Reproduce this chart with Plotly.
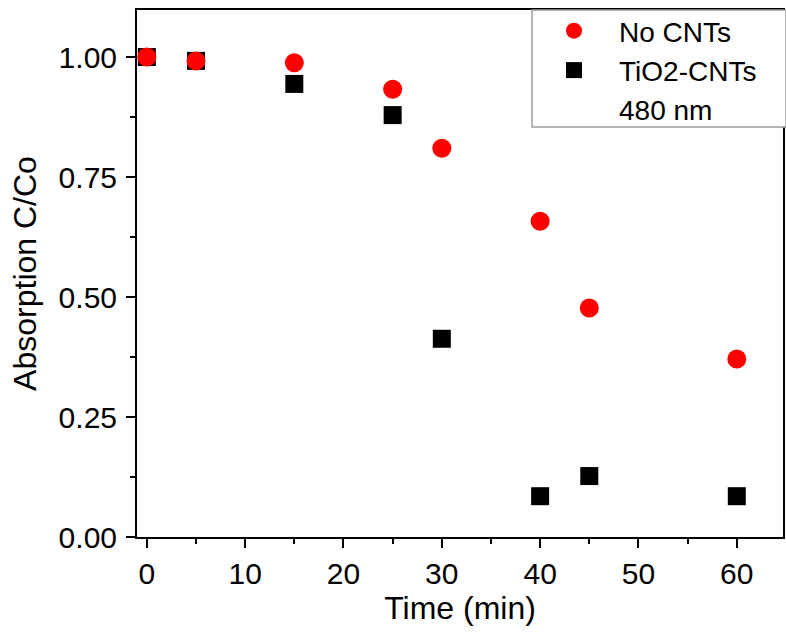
import plotly.graph_objects as go

# Data
time_min = [0, 5, 15, 25, 30, 40, 45, 60]
no_cnts = [1.00, 0.992, 0.988, 0.933, 0.810, 0.658, 0.477, 0.371]
tio2_cnts = [1.00, 0.992, 0.944, 0.879, 0.413, 0.085, 0.127, 0.085]

x_ticks = [0, 10, 20, 30, 40, 50, 60]
y_ticks = [0.00, 0.25, 0.50, 0.75, 1.00]
y_tick_labels = ["0.00", "0.25", "0.50", "0.75", "1.00"]

FONT = "Liberation Sans, Arial, sans-serif"

W, H = 786, 632
L, R, T, B = 137, 3, 10, 95
PW = W - L - R
PH = H - T - B

fig = go.Figure()

fig.add_trace(go.Scatter(
    x=time_min, y=tio2_cnts, mode="markers", name="TiO2-CNTs",
    marker=dict(symbol="square", size=18, color="black"),
    legendrank=2, cliponaxis=False,
))
fig.add_trace(go.Scatter(
    x=time_min, y=no_cnts, mode="markers", name="No CNTs",
    marker=dict(symbol="circle", size=19, color="#FF0000"),
    legendrank=1, cliponaxis=False,
))
fig.add_trace(go.Scatter(
    x=[None], y=[None], mode="markers", name="480 nm",
    marker=dict(size=1, color="rgba(0,0,0,0)"),
    legendrank=3,
))

axis_common = dict(
    showline=True, linecolor="black", linewidth=2, mirror=True,
    ticks="outside", ticklen=9, tickwidth=2, tickcolor="black",
    showgrid=False, zeroline=False, automargin=False,
    tickfont=dict(family=FONT, size=30, color="black"),
)

fig.update_xaxes(
    range=[-1, 64.7], tickvals=x_ticks,
    minor=dict(dtick=5, tick0=0, ticks="outside", ticklen=5, tickwidth=2, tickcolor="black"),
    title=dict(text="Time (min)", font=dict(family=FONT, size=32, color="black"), standoff=4),
    **axis_common,
)
fig.update_yaxes(
    range=[0, 1.098], tickvals=y_ticks, ticktext=y_tick_labels,
    minor=dict(dtick=0.125, tick0=0, ticks="outside", ticklen=5, tickwidth=2, tickcolor="black"),
    title=dict(text="Absorption C/Co", font=dict(family=FONT, size=32, color="black"), standoff=12),
    ticklabelstandoff=3,
    **axis_common,
)

# legend box
fig.add_shape(
    type="rect", xref="paper", yref="paper",
    x0=(532 - L) / PW, x1=(786 - L) / PW,
    y0=1 - 117 / PH, y1=1.0,
    fillcolor="white", line=dict(color="#9a9a9a", width=1.5), layer="above",
)

fig.update_layout(
    width=W, height=H,
    margin=dict(l=L, r=R, t=T, b=B),
    plot_bgcolor="white", paper_bgcolor="white",
    font=dict(family=FONT, color="black"),
    showlegend=True,
    legend=dict(
        x=(529 - L) / PW, xanchor="left", y=1 + 4 / PH, yanchor="top",
        bgcolor="rgba(0,0,0,0)", borderwidth=0,
        font=dict(family=FONT, size=28, color="black"),
        itemwidth=80, tracegroupgap=0,
    ),
)

fig.write_html(
    "out.html",
    config={"displayModeBar": False},
    post_script="document.body.style.margin='0';document.body.style.overflow='hidden';",
)
